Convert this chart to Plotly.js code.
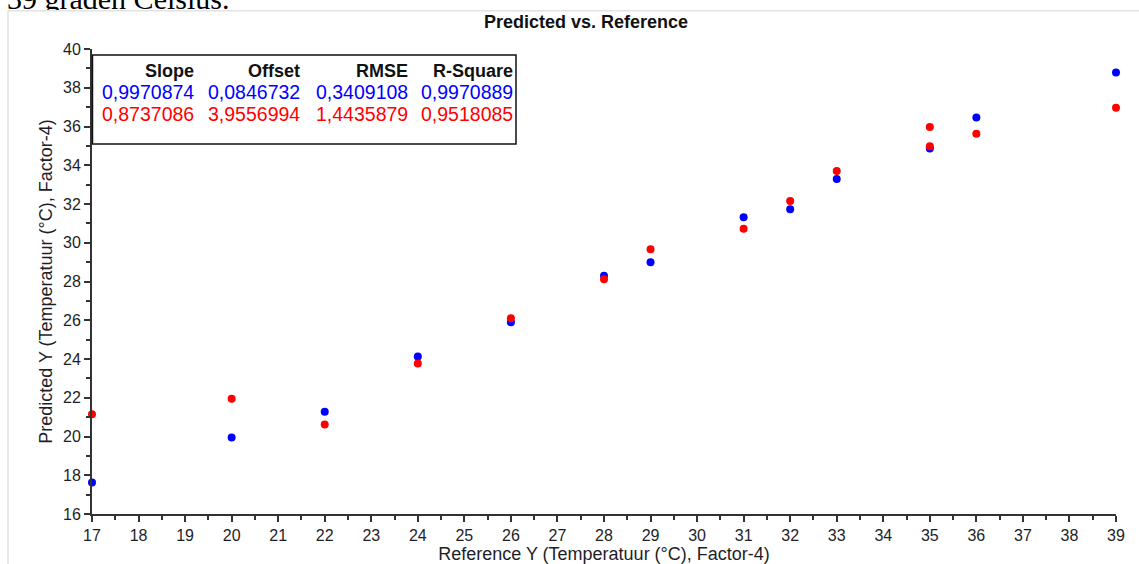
<!DOCTYPE html>
<html>
<head>
<meta charset="utf-8">
<script src="https://cdn.plot.ly/plotly-3.0.1.min.js"></script>
<style>
  html, body { margin: 0; padding: 0; background: #fff; }
  #chart { width: 1139px; height: 564px; }
  #lead { position: absolute; left: 0; top: 0; width: 420px; height: 10px; overflow: hidden; z-index: 5; pointer-events: none; }
  #lead span { position: absolute; left: 7px; top: -16px; font: 30px/30px "Liberation Serif", "Times New Roman", serif; color: #000; white-space: nowrap; }
</style>
</head>
<body>
<div id="lead"><span>39 graden Celsius.</span></div>
<div id="chart"></div>
<script>
// Reference vs predicted temperature (°C), Factor-4 model
const blueReference = [17, 20, 22, 24, 26, 28, 29, 31, 32, 33, 35, 36, 39];
const bluePredicted = [17.62, 19.95, 21.28, 24.13, 25.90, 28.30, 28.99, 31.32, 31.73, 33.29, 34.86, 36.47, 38.79];

const redReference = [17, 20, 22, 24, 26, 28, 29, 31, 32, 33, 35, 35, 36, 39];
const redPredicted = [21.15, 21.95, 20.62, 23.77, 26.10, 28.11, 29.66, 30.72, 32.16, 33.70, 35.97, 34.98, 35.63, 36.97];

// Regression statistics table
const statHeaders = ["Slope", "Offset", "RMSE", "R-Square"];
const blueStats = ["0,9970874", "0,0846732", "0,3409108", "0,9970889"];
const redStats = ["0,8737086", "3,9556994", "1,4435879", "0,9518085"];

const xTickValues = [17, 18, 19, 20, 21, 22, 23, 24, 25, 26, 27, 28, 29, 30, 31, 32, 33, 34, 35, 36, 37, 38, 39];
const yTickValues = [16, 18, 20, 22, 24, 26, 28, 30, 32, 34, 36, 38, 40];

// page geometry (pixels) used to place decorations in paper coordinates
const W = 1139, H = 564;
const M = { l: 92, r: 23, t: 49, b: 50 };
const plotW = W - M.l - M.r, plotH = H - M.t - M.b;
const px2x = px => (px - M.l) / plotW;
const px2y = py => (H - M.b - py) / plotH;

const FONT = '"Liberation Sans", Arial, sans-serif';
const AXIS = '#333333';
const INK = '#1e1e28';

const traces = [
  {
    x: blueReference, y: bluePredicted, type: 'scatter', mode: 'markers',
    marker: { color: '#0000ff', size: 8 }, cliponaxis: false, hoverinfo: 'x+y', showlegend: false
  },
  {
    x: redReference, y: redPredicted, type: 'scatter', mode: 'markers',
    marker: { color: '#ff0000', size: 8 }, cliponaxis: false, hoverinfo: 'x+y', showlegend: false
  }
];

// statistics box: header row and two coloured rows, right-aligned columns
const colRight = [196, 302, 410, 515];
const rowY = [71, 92, 114];
const annotations = [
  {
    text: '<b>Predicted vs. Reference</b>', xref: 'paper', yref: 'paper',
    x: px2x(586), y: px2y(22), xanchor: 'center', yanchor: 'middle', showarrow: false,
    font: { family: FONT, size: 18, color: '#111' }
  }
];
statHeaders.forEach((h, i) => {
  annotations.push({ text: '<b>' + h + '</b>', xref: 'paper', yref: 'paper', x: px2x(colRight[i]), y: px2y(rowY[0]),
    xanchor: 'right', yanchor: 'middle', showarrow: false, font: { family: FONT, size: 18, color: '#111' } });
});
blueStats.forEach((v, i) => {
  annotations.push({ text: v, xref: 'paper', yref: 'paper', x: px2x(colRight[i]), y: px2y(rowY[1]),
    xanchor: 'right', yanchor: 'middle', showarrow: false, font: { family: FONT, size: 19.5, color: '#0000ff' } });
});
redStats.forEach((v, i) => {
  annotations.push({ text: v, xref: 'paper', yref: 'paper', x: px2x(colRight[i]), y: px2y(rowY[2]),
    xanchor: 'right', yanchor: 'middle', showarrow: false, font: { family: FONT, size: 19.5, color: '#ff0000' } });
});

const shapes = [
  // statistics box outline
  { type: 'rect', xref: 'paper', yref: 'paper', x0: px2x(92.5), x1: px2x(516), y0: px2y(55), y1: px2y(144),
    line: { color: '#111', width: 1.5 }, fillcolor: 'rgba(255,255,255,0)', layer: 'above' },
  // light frame around the chart image
  { type: 'line', xref: 'paper', yref: 'paper', x0: px2x(8), x1: px2x(W + 5), y0: px2y(10.7), y1: px2y(10.7),
    line: { color: '#e2e2e2', width: 1.5 } },
  { type: 'line', xref: 'paper', yref: 'paper', x0: px2x(8), x1: px2x(8), y0: px2y(10.7), y1: px2y(H + 5),
    line: { color: '#e2e2e2', width: 1.5 } }
];

const layout = {
  width: W, height: H,
  margin: M,
  paper_bgcolor: '#fff', plot_bgcolor: '#fff',
  font: { family: FONT, color: INK },
  showlegend: false,
  xaxis: {
    range: [17, 39], tickvals: xTickValues, ticks: 'outside', ticklen: 6, tickwidth: 2, tickcolor: AXIS,
    showline: true, linewidth: 2, linecolor: AXIS, showgrid: false, zeroline: false, mirror: false,
    minor: { dtick: 0.5, tick0: 17, ticks: 'outside', ticklen: 4, tickwidth: 2, tickcolor: AXIS, showgrid: false },
    tickfont: { family: FONT, size: 16, color: INK },
    title: { text: 'Reference Y (Temperatuur (°C), Factor-4)', font: { family: FONT, size: 18, color: INK }, standoff: 7 },
    automargin: false, fixedrange: true
  },
  yaxis: {
    range: [16, 40], tickvals: yTickValues, ticks: 'outside', ticklen: 6, tickwidth: 2, tickcolor: AXIS,
    showline: true, linewidth: 2, linecolor: AXIS, showgrid: false, zeroline: false, mirror: false,
    minor: { dtick: 1, tick0: 16, ticks: 'outside', ticklen: 4, tickwidth: 2, tickcolor: AXIS, showgrid: false },
    tickfont: { family: FONT, size: 16, color: INK },
    title: { text: 'Predicted Y (Temperatuur (°C), Factor-4)', font: { family: FONT, size: 18, color: INK }, standoff: 6 },
    automargin: false, fixedrange: true
  },
  shapes: shapes,
  annotations: annotations
};

Plotly.newPlot('chart', traces, layout, { displayModeBar: false, staticPlot: true });
</script>
</body>
</html>
